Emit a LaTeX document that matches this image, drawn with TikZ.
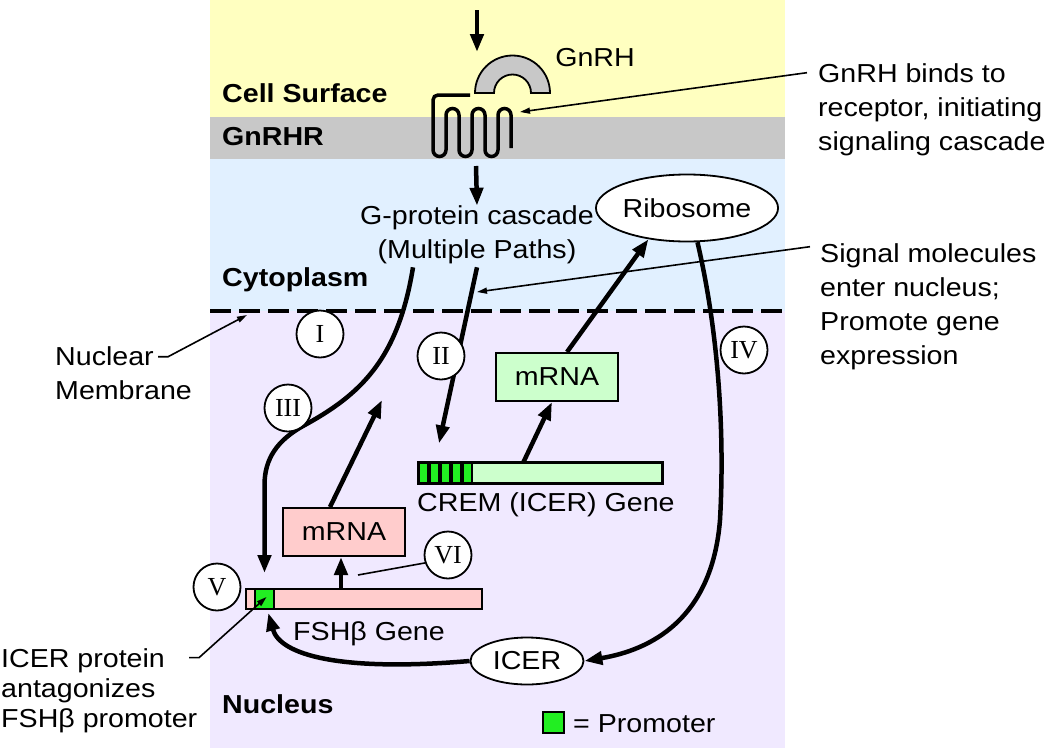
\documentclass[tikz,border=0pt]{standalone}
\usepackage{fontspec}
\setmainfont{Liberation Sans}[FakeStretch=1.1]
\newfontfamily\numeralfont{Liberation Serif}
\usepackage{tikz}
\usetikzlibrary{calc}
\usetikzlibrary{arrows.meta}
\usetikzlibrary{shapes.geometric}
\usepackage{color}
\definecolor{cream}{RGB}{255, 255, 192}
\definecolor{silver}{RGB}{200, 200, 200}
\definecolor{cloud}{RGB}{225, 240, 255}
\definecolor{lavender}{RGB}{240, 233, 255}
\definecolor{rosepink}{RGB}{255, 204, 204}
\definecolor{mintgreen}{RGB}{204, 255, 204}
\definecolor{emerald}{RGB}{34, 238, 34}

\begin{document}
\begin{tikzpicture}[x=1pt, y=-1pt,
        txt/.style={inner sep=0pt, font=\fontsize{26}{34}\selectfont},
        regionlabel/.style={txt, anchor=west, font=\fontsize{26}{34}\selectfont\bfseries},
        note/.style={txt, anchor=west, align=left},
        numeral/.style={circle, draw, line width=1.8pt, fill=white, minimum size=47pt, inner sep=0pt,
                        font=\numeralfont\fontsize{26}{26}\selectfont},
        oval/.style={ellipse, draw, line width=1.8pt, fill=white, txt},
        genebar/.style={rectangle, draw, line width=2pt, minimum height=20pt, inner sep=0pt},
        mrnabox/.style={rectangle, draw, line width=2pt, minimum width=122pt, minimum height=48pt, txt},
        pathway/.style={line width=4.5pt, -{Triangle[length=18pt,width=13pt]}},
        pointer/.style={line width=1.6pt, -{Triangle[length=10pt,width=6pt]}}]
            \useasboundingbox (0,0) rectangle (1050,750);
            % Compartments
            \fill[cream]                                                      (210,  0) rectangle (785,117);
            \fill[silver]                                                     (210,117) rectangle (785,159);
            \fill[cloud]                                                      (210,159) rectangle (785,311);
            \fill[lavender]                                                   (210,311) rectangle (785,748);
            \draw[line width=4pt, dash pattern=on 21pt off 8pt]               (210,311) -- (785,311);
            % Compartment names
            \node[regionlabel] (surface)   at (222, 93) {Cell Surface};
            \node[regionlabel] (gnrhr)     at (222,137) {GnRHR};
            \node[regionlabel] (cytoplasm) at (222,280) {Cytoplasm};
            \node[regionlabel] (nucleus)   at (222,704) {Nucleus};
            % Ligand & receptor
            \filldraw[fill=silver, line width=1.8pt] (475,93) arc[start angle=180, end angle=0, radius=37.5pt]
                 -- (531,93) arc[start angle=0, end angle=180, radius=18.5pt] -- cycle;
            \draw[line width=3.5pt] (470,95) -- (438,95) arc[start angle=90, end angle=180, radius=5pt]
                 -- (433,150) arc[start angle=180, end angle=360, radius=6.5pt]
                 -- (446,115) arc[start angle=180, end angle=0,   radius=6.5pt]
                 -- (459,150) arc[start angle=180, end angle=360, radius=6.5pt]
                 -- (472,115) arc[start angle=180, end angle=0,   radius=6.5pt]
                 -- (485,150) arc[start angle=180, end angle=360, radius=6.5pt]
                 -- (498,115) arc[start angle=180, end angle=0,   radius=6.5pt]
                 -- (511,148);
            \node[txt] (gnrh) at (595,58) {GnRH};
            \coordinate (ligtop)    at (477, 10);
            \coordinate (ligbase)   at (477, 52);
            \coordinate (rcpt)      at (476,166);
            \coordinate (rcptside)  at (520,112);
            \coordinate (signaltip) at (477,292);
            \coordinate (envelope)  at (247,315);
            \coordinate (export)    at (382,400);
            \coordinate (vitip)     at (358,575);
            % Cascade, ribosome & ICER
            \node[txt, align=center] (cascade) at (477,235) {G-protein cascade\\(Multiple Paths)};
            \node[oval, minimum width=151pt, minimum height=67pt] (ribosome) at (687,208) {Ribosome};
            \node[oval, minimum width=113pt, minimum height=47pt] (icer)     at (527,661) {ICER};
            % Genes
            \node[genebar, fill=rosepink,  minimum width=236pt] (fshgene)  at (364.0,599) {};
            \node[genebar, fill=emerald,   minimum width=19pt]  (promoter) at (264.5,599) {};
            \node[genebar, fill=mintgreen, minimum width=243pt] (cremgene) at (540.5,473) {};
            \foreach \x in {419,430,441,452,463}
                \draw[fill=emerald, line width=1.2pt] (\x,463) rectangle ++(9,20);
            \draw[line width=2pt] (cremgene.north west) rectangle (cremgene.south east);
            \node[txt, anchor=west] (cremlabel) at (417,505) {CREM (ICER) Gene};
            \node[txt, anchor=west] (fshlabel)  at (293,634) {FSHβ Gene};
            \node[mrnabox, fill=rosepink]  (fshmrna)  at (344,532) {mRNA};
            \node[mrnabox, fill=mintgreen] (cremmrna) at (557,377) {mRNA};
            % Signalling paths
            \draw[pathway] (ligtop) -- (ligbase);
            \draw[pathway] (rcpt) -- (cascade.north);
            \draw[pathway, shorten >=19pt] ([shift={(0,3)}]cascade.south) -- ([shift={(17,0)}]cremgene.north west);
            \draw[pathway, shorten >=15pt] ([shift={(-64,3)}]cascade.south) .. controls (398,360) and (360,395) .. (303,426)
                 .. controls (278,440) and (264.5,458) .. (264.5,485) -- (promoter.north);
            \draw[pathway] ([shift={(-17,0)}]cremgene.north) -- ([shift={(-5,0)}]cremmrna.south);
            \draw[pathway] ([shift={(10,0)}]cremmrna.north) -- (ribosome.219);
            \draw[pathway] (ribosome.287) .. controls (718,330) and (725,430) .. (720,520)
                 .. controls (712,620) and (650,650) .. (icer.east);
            \draw[pathway, shorten >=3pt] (icer.west) .. controls (340,672) and (280,655) .. ([shift={(3,0)}]promoter.south);
            \draw[pathway] ([shift={(-23,0)}]fshgene.north) -- ([shift={(-3,0)}]fshmrna.south);
            \draw[pathway] ([shift={(-14,0)}]fshmrna.north) -- (export);
            % Steps
            \node[numeral] (romI)   at (320,334) {I};
            \node[numeral] (romII)  at (441,356) {II};
            \node[numeral] (romIII) at (288,408) {III};
            \node[numeral] (romIV)  at (744,350) {IV};
            \node[numeral] (romV)   at (217,587) {V};
            \node[numeral] (romVI)  at (448,555) {VI};
            \draw[line width=1.6pt] (romVI.199) -- (vitip);
            % Notes
            \node[note] (bindnote)     at (818,110) {GnRH binds to\\receptor, initiating\\signaling cascade};
            \node[note] (signalnote)   at (820,307) {Signal molecules\\enter nucleus;\\Promote gene\\expression};
            \node[note] (membranenote) at (55,373) {Nuclear\\Membrane};
            \node[note, font=\fontsize{26}{30}\selectfont] (icernote) at (1,691) {ICER protein\\antagonizes\\FSHβ promoter};
            \draw[pointer] ([shift={(-11,9)}]bindnote.north west) -- (rcptside);
            \draw[pointer] ([shift={(-10,3)}]signalnote.north west) -- (signaltip);
            \draw[pointer] ([shift={(103,10.5)}]membranenote.north west) -- ++(10,0) -- (envelope);
            \draw[pointer] ([shift={(188,9)}]icernote.north west) -- ++(10,0) -- ([shift={(2,-2)}]promoter.center);
            % Legend
            \node[genebar, fill=emerald, minimum width=21pt, minimum height=21pt] (legendbox) at (553.5,722.5) {};
            \node[txt, anchor=west] (legend) at (573,723.5) {= Promoter};
        \end{tikzpicture}
\end{document}
